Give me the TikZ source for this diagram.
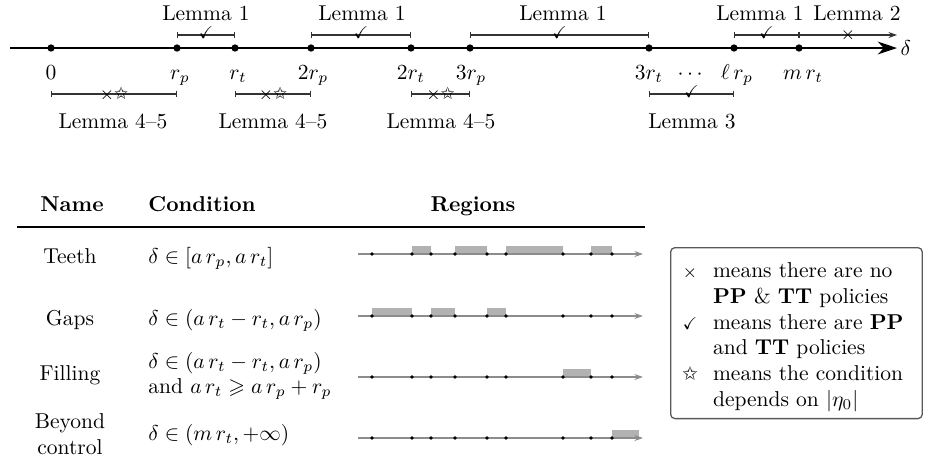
\documentclass[tikz,border=0pt]{standalone}
\usepackage{amsmath,amssymb}
\usepackage{pifont}
\usetikzlibrary{arrows.meta,calc}
\begin{document}
\begin{tikzpicture}[x=0.465pt,y=-0.465pt,
  bigdot/.style={circle,fill=black,inner sep=0pt,minimum size=3.4pt},
  smalldot/.style={circle,fill=black,inner sep=0pt,minimum size=1.7pt},
  ival/.style={line width=0.5pt,black!80,{Bar[width=3.2pt]}-{Bar[width=3.2pt]}},
  ivalarrow/.style={line width=0.5pt,black!80,{Bar[width=3.2pt]}-{Stealth[length=4pt,width=2.8pt]}},
  lab/.style={anchor=base,inner sep=0pt},
  lableft/.style={anchor=base west,inner sep=0pt},
  sym/.style={inner sep=0pt,font=\footnotesize},
  regaxis/.style={line width=0.6pt,black!45,-{Stealth[length=4pt,width=2.8pt]}},
  regbox/.style={fill=black!30,draw=none},
]
\useasboundingbox (0,0) rectangle (926,462);

% ---------- main axis ----------
\coordinate (start) at (10,48);
\coordinate (tip) at (897,48);
\coordinate (U) at (0,35);
\coordinate (D) at (0,94);
\draw[line width=0.9pt,-{Stealth[length=9pt,width=6pt]}] (start) -- (tip);
\node[anchor=west,inner sep=1.5pt] (delta) at (tip) {$\delta$};

\foreach \n/\x in {a0/51,rp/177,rt/235,tp/311,tt/411,hp/470,ht/649,lp/734,mt/799}
  \node[bigdot] (\n) at (\x,48) {};

\node[lab] (l0) at (51,79) {$0$};
\node[lab] (lrp) at (180,79) {$r_p$};
\node[lab] (lrt) at (238,79) {$r_t$};
\node[lab] (ltp) at (313,79) {$2r_p$};
\node[lab] (ltt) at (411,79) {$2r_t$};
\node[lab] (lhp) at (471,79) {$3r_p$};
\node[lab] (lht) at (649,79) {$3r_t$};
\node[lab] (ldots) at (692,79) {$\cdots$};
\node[lab] (llp) at (737,79) {$\ell\,r_p$};
\node[lab] (lmt) at (803,79) {$m\,r_t$};

% upper intervals
\coordinate (uend) at (897,35);
\draw[ival] (rp |- U) -- (rt |- U);
\draw[ival] (tp |- U) -- (tt |- U);
\draw[ival] (hp |- U) -- (ht |- U);
\draw[ival] (lp |- U) -- (mt |- U);
\draw[ivalarrow] (mt |- U) -- (uend);
\node[sym] (c1) at ($(rp |- U)!0.5!(rt |- U)+(0,-2)$) {$\checkmark$};
\node[sym] (c2) at ($(tp |- U)!0.5!(tt |- U)+(0,-2)$) {$\checkmark$};
\node[sym] (c3) at ($(hp |- U)!0.5!(ht |- U)+(0,-2)$) {$\checkmark$};
\node[sym] (c4) at ($(lp |- U)!0.5!(mt |- U)+(0,-2)$) {$\checkmark$};
\node[sym] (x5) at ($(mt |- U)!0.5!(uend)$) {$\times$};

\node[lab] (L1a) at (206,20) {Lemma 1};
\node[lab] (L1b) at (362,20) {Lemma 1};
\node[lab] (L1c) at (563,20) {Lemma 1};
\node[lab] (L1d) at (760,20) {Lemma 1};
\node[lab] (L2) at (857,20) {Lemma 2};

% lower intervals
\draw[ival] (a0 |- D) -- (rp |- D);
\draw[ival] (rt |- D) -- (tp |- D);
\draw[ival] (tt |- D) -- (hp |- D);
\draw[ival] (ht |- D) -- (lp |- D);
\node[sym] (s1) at ($(a0 |- D)!0.5!(rp |- D)$) {$\times$\ding{73}};
\node[sym] (s2) at ($(rt |- D)!0.5!(tp |- D)$) {$\times$\ding{73}};
\node[sym] (s3) at ($(tt |- D)!0.5!(hp |- D)$) {$\times$\ding{73}};
\node[sym] (c5) at ($(ht |- D)!0.5!(lp |- D)+(0,-2)$) {$\checkmark$};

\node[lab] (L45a) at (113,128) {Lemma 4--5};
\node[lab] (L45b) at (273,128) {Lemma 4--5};
\node[lab] (L45c) at (441,128) {Lemma 4--5};
\node[lab] (L3) at (692,128) {Lemma 3};

% ---------- table ----------
\node[lab] (hname) at (72,211) {\textbf{Name}};
\node[lableft] (hcond) at (148,211) {\textbf{Condition}};
\node[lab] (hreg) at (473,211) {\textbf{Regions}};
\coordinate (rs) at (17,227);
\coordinate (re) at (645,227);
\draw[line width=0.8pt] (rs) -- (re);

\node[lab] (nteeth) at (70,263) {Teeth};
\node[lab] (ngaps) at (70,325) {Gaps};
\node[lab] (nfill) at (70,380) {Filling};
\node[align=center,inner sep=0pt] (nbeyond) at (70,434) {Beyond\\control};

\node[lableft] (cteeth) at (148,263) {$\delta\in[a\,r_p,a\,r_t]$};
\node[lableft] (cgaps) at (148,325) {$\delta\in(a\,r_t-r_t,a\,r_p)$};
\node[lableft] (cfill1) at (148,368) {$\delta\in(a\,r_t-r_t,a\,r_p)$};
\node[lableft] (cfill2) at (148,393) {and $a\,r_t\geqslant a\,r_p+r_p$};
\node[lableft] (cbeyond) at (148,440) {$\delta\in(m\,r_t,+\infty)$};

% region rows
\foreach \r/\y in {1/254,2/316,3/377,4/438}{
  \coordinate (rs\r) at (358,\y);
  \coordinate (re\r) at (643,\y);
}
% boxes
\foreach \a/\b in {412/431,455/487,506/563,591/612}
  \fill[regbox] (\a,254) rectangle (\b,246);
\foreach \a/\b in {372/412,431/455,487/506}
  \fill[regbox] (\a,316) rectangle (\b,308);
\fill[regbox] (563,377) rectangle (591,369);
\fill[regbox] (612,438) rectangle (639,430);

\foreach \r/\y in {1/254,2/316,3/377,4/438}{
  \draw[regaxis] (rs\r) -- (re\r);
  \foreach \k/\x in {0/372,1/412,2/431,3/455,4/487,5/506,6/563,7/591,8/612}
    \node[smalldot] (d\r\k) at (\x,\y) {};
}

% ---------- legend ----------
\node[draw=black!65,line width=0.6pt,rounded corners=2pt,minimum width=117pt,minimum height=79.5pt,inner sep=0pt,anchor=north west] (legbox) at (670,247) {};
\node[anchor=north west,inner sep=0pt] (legtext) at (681,259) {%
  \begin{tabular}{@{}c@{\hspace{6.7pt}}l@{}}
  \makebox[8pt]{\footnotesize$\times$} & means there are no\\
   & \textbf{PP} \& \textbf{TT} policies\\
  \makebox[8pt]{\footnotesize$\checkmark$} & means there are \textbf{PP}\\
   & and \textbf{TT} policies\\
  \makebox[8pt]{\small\ding{73}} & means the condition\\
   & depends on $|\eta_0|$
  \end{tabular}};
\end{tikzpicture}
\end{document}
